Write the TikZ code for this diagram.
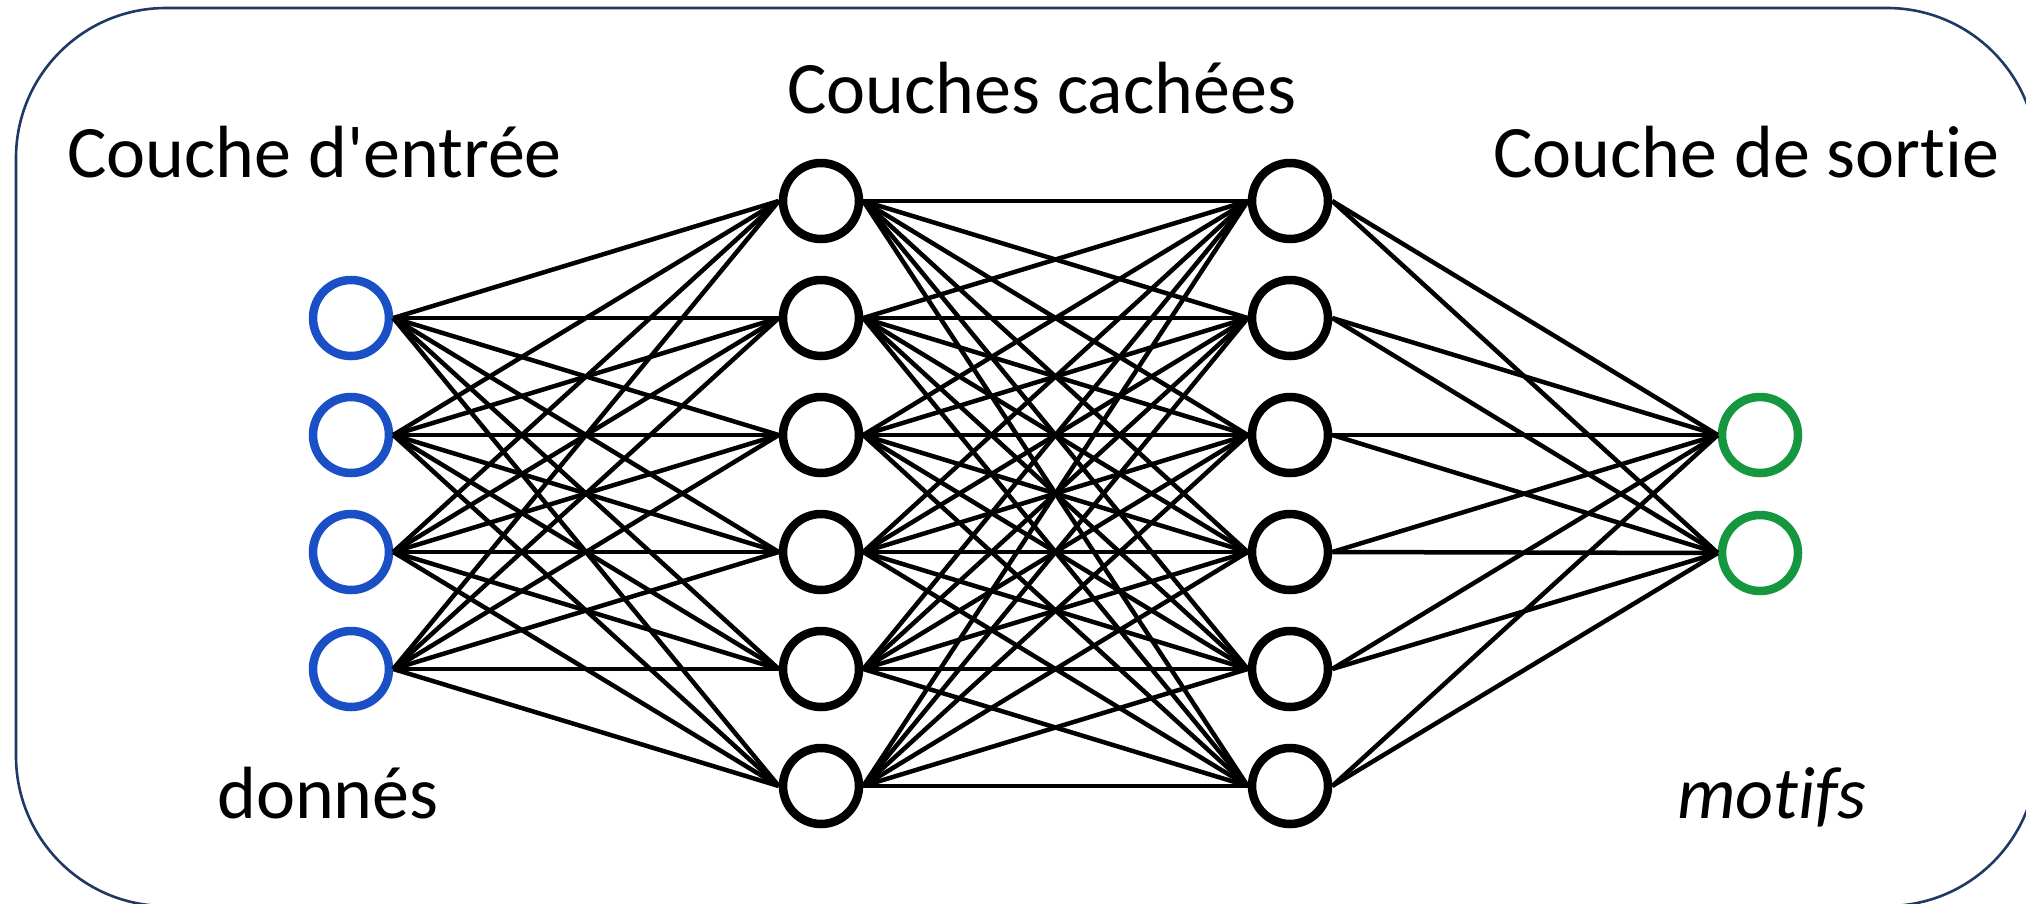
\documentclass[tikz,border=0pt]{standalone}
\usepackage{fontspec}
\setmainfont{Carlito}[Ligatures={TeXOff,NoCommon}]
\definecolor{inblue}{HTML}{1A4FC6}
\definecolor{outgreen}{HTML}{16963F}
\definecolor{framecol}{HTML}{1F3864}
\begin{document}
\begin{tikzpicture}[x=1pt,y=-1pt,
  neuron/.style={circle,draw,line width=8.5pt,minimum size=76pt,inner sep=0pt},
  innode/.style={neuron,draw=inblue},
  hidnode/.style={neuron,draw=black},
  outnode/.style={neuron,draw=outgreen},
  link/.style={line width=4.5pt,black},
  frame/.style={draw=framecol,line width=2.6pt,rounded corners=150pt},
  lbl/.style={font=\fontsize{74}{88}\selectfont,inner sep=0pt,anchor=base west}]
\useasboundingbox (0,0) rectangle (2026,903);
\draw[frame] (16,8) rectangle (2037,906);
% nodes
\foreach \i/\y in {1/318,2/435,3/552,4/669}
  \node[innode] (i\i) at (351,\y) {};
\foreach \i/\y in {1/201,2/318,3/435,4/552,5/669,6/786}{
  \node[hidnode] (a\i) at (821,\y) {};
  \node[hidnode] (b\i) at (1290,\y) {};
}
\node[outnode] (o1) at (1760,435) {};
\node[outnode] (o2) at (1760,553) {};
% links
\foreach \i in {1,...,4}
  \foreach \j in {1,...,6}
    \draw[link] (i\i.east) -- (a\j.west);
\foreach \i in {1,...,6}
  \foreach \j in {1,...,6}
    \draw[link] (a\i.east) -- (b\j.west);
\foreach \i in {1,...,6}
  \foreach \j in {1,2}
    \draw[link] (b\i.east) -- (o\j.west);
% labels
\node[lbl] (tin) at (67,177) {Couche d'entrée};
\node[lbl] (thid) at (787,113) {Couches cachées};
\node[lbl] (tout) at (1493,177) {Couche de sortie};
\node[lbl] (tdon) at (217,818) {donnés};
\node[lbl,font=\fontsize{74}{88}\selectfont\itshape] (tmot) at (1677,818) {motifs};
\end{tikzpicture}
\end{document}
